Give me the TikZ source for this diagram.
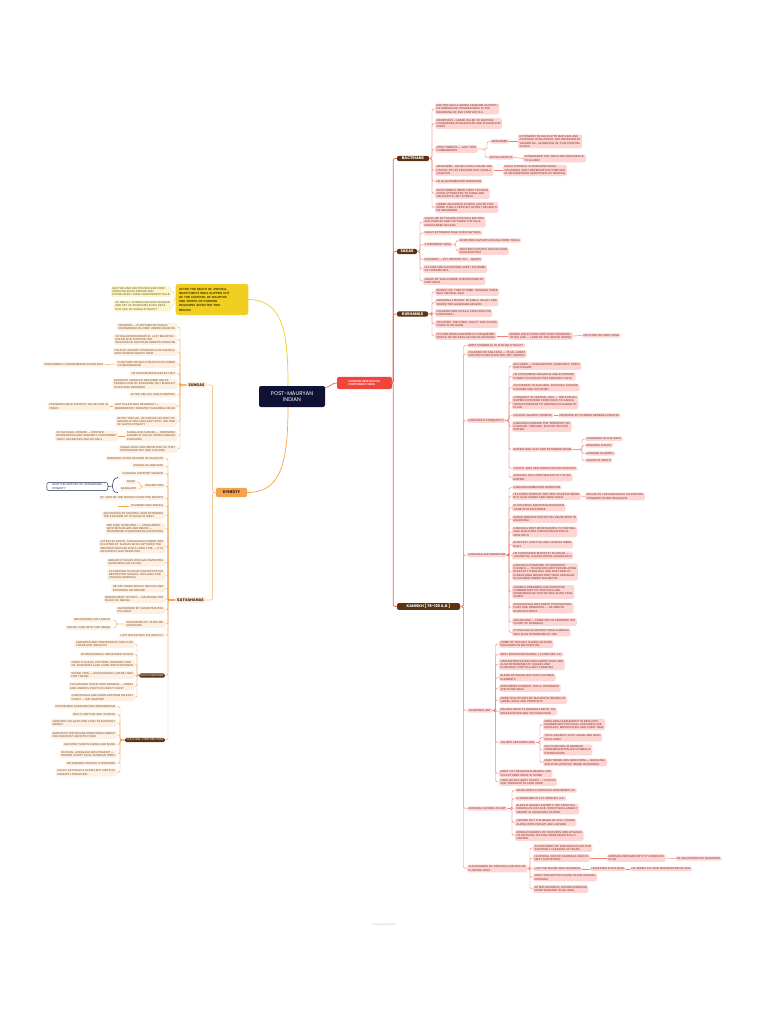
\documentclass[tikz,border=0pt]{standalone}
\usepackage{fontspec}
\setmainfont{Liberation Sans}
\newfontfamily\pop{Poppins}
\definecolor{navyc}{HTML}{0F1235}
\definecolor{redn}{HTML}{F0443C}
\definecolor{brnc}{HTML}{5B3411}
\definecolor{pkf}{HTML}{FDD6D4}
\definecolor{pkt}{HTML}{7D2A22}
\definecolor{redl}{HTML}{F47C78}
\definecolor{redt}{HTML}{F3625C}
\definecolor{yelf}{HTML}{F0CF22}
\definecolor{yelt}{HTML}{3A3000}
\definecolor{ycf}{HTML}{FBF4CC}
\definecolor{yct}{HTML}{6E6020}
\definecolor{yell}{HTML}{EED860}
\definecolor{dynf}{HTML}{F5A24F}
\definecolor{dynt}{HTML}{2E1A05}
\definecolor{subf}{HTML}{FDE7D3}
\definecolor{subt}{HTML}{3A2410}
\definecolor{pcf}{HTML}{FDEFE2}
\definecolor{pct}{HTML}{7A4A20}
\definecolor{orl}{HTML}{F6A24C}
\definecolor{ort}{HTML}{F4C595}
\definecolor{sumc}{HTML}{1D2450}
\newcommand\mysmall{\fontsize{2.8}{3.2}\selectfont}
\newcommand\myhead{\pop\bfseries\fontsize{3.8}{4.2}\selectfont}
\begin{document}
\begin{tikzpicture}[x=1pt,y=-1pt,
 pk/.style={fill=pkf,text=pkt,font=\mysmall,align=left,inner xsep=1.5pt,inner ysep=1.2pt,rounded corners=1.5pt,anchor=west},
 pc/.style={fill=pcf,text=pct,font=\mysmall,align=left,inner xsep=1.5pt,inner ysep=1.2pt,rounded corners=1.5pt,anchor=east},
 yc/.style={fill=ycf,text=yct,font=\mysmall,align=left,inner xsep=1.5pt,inner ysep=1.2pt,rounded corners=1.5pt,anchor=east},
 lvtwo/.style={fill=brnc,text=white,font=\myhead,inner xsep=2.5pt,inner ysep=1.3pt,rounded corners=2pt,anchor=center},
 brsmall/.style={fill=brnc,text=white,font=\mysmall,inner xsep=1.5pt,inner ysep=1.2pt,rounded corners=1.5pt,anchor=east},
 subnode/.style={fill=subf,text=subt,font=\myhead,inner xsep=2pt,inner ysep=1.3pt,rounded corners=1.5pt,anchor=center},
 rl/.style={draw=redl,line width=0.45pt,rounded corners=1.5pt},
 rt/.style={draw=redt,line width=0.7pt,rounded corners=2pt},
 ol/.style={draw=orl,line width=0.45pt,rounded corners=1.5pt},
 ot/.style={draw=ort,line width=0.7pt,rounded corners=2pt},
 yl/.style={draw=yell,line width=0.45pt,rounded corners=1.5pt}]
\fill[white] (0,0) rectangle (768,1024);
\useasboundingbox (0,0) rectangle (768,1024);

% ---------- centre ----------
\node[fill=navyc,text=white,font=\pop\fontsize{5.4}{6.6}\selectfont,align=center,minimum width=66pt,minimum height=21pt,rounded corners=2pt] (root) at (292,396.5) {POST-MAURYAN\\INDIAN};
\node[fill=redn,text=white,font=\bfseries\fontsize{2.8}{3.4}\selectfont,align=left,minimum width=55pt,minimum height=12pt,rounded corners=2pt] (fi) at (364.5,383) {FOREIGN INVASION OF\\NORTHWEST INDIA};
\node[fill=yelf,text=yelt,font=\bfseries\fontsize{3}{4.2}\selectfont,align=left,text width=66pt,minimum width=72pt,minimum height=31pt,rounded corners=2.5pt] (ybox) at (212,299.5) {AFTER THE DEATH OF ASHOKA,\\NORTH WEST INDIA SLIPPED OUT\\OF THE CONTROL OF MAURYAS\\AND SERIES OF FOREIGN\\INVASIONS AFFECTED THIS\\REGION};
\node[fill=dynf,text=dynt,font=\myhead,minimum width=31pt,minimum height=9pt,rounded corners=2pt] (dyn) at (231.5,492.5) {DYNESTY};

\draw[draw=redt,line width=0.7pt] ([yshift=9pt]root.east) .. controls (331,387) and (331,383) .. (fi.west);
\draw[draw=yelf,line width=0.7pt] ([xshift=-4pt]root.north) .. controls (288,335) and (284,300) .. (ybox.east);
\draw[draw=orl,line width=0.7pt] ([xshift=-4pt]root.south) .. controls (288,465) and (280,492.5) .. (dyn.east);

% ---------- right: level 2 ----------
\node[lvtwo,minimum width=32pt] (b1) at (413,158.5) {BACTRIANS};
\node[lvtwo,minimum width=20pt] (b2) at (407,251.5) {SAKAS};
\node[lvtwo,minimum width=31pt] (b3) at (412.5,314) {KUSHANAS};
\node[lvtwo,minimum width=63pt] (b4) at (428.5,606.5) {KANISKH [ 78-120 A.D ]};
\foreach \c in {b1,b2,b3,b4} \draw[rt] (fi.east) -| ([xshift=-3.5pt]\c.west) -- (\c.west);

% ---------- Bactrians ----------
\node[pk] (bc1) at (435,109) {BACTRIA WAS A GREEK KINGDOM IN NORTH\\OF HINDUKUSH, INVADED INDIA IN THE\\BEGINNING OF 2ND CENTURY B.C.};
\node[pk] (bc2) at (435,123.5) {DEMETRIUS - GREEK RULER OF BACTRIA,\\CONQUERED AFGHANISTAN AND PUNJAB AND\\SINDH};
\node[pk] (bc3) at (435,149) {MOST FAMOUS — LAST TWO\\COMMANDERS};
\node[pk] (bm) at (490,141.5) {MENANDER};
\node[pk] (bm1) at (518,141.5) {EXTENDED HIS RULE UPTO MATHURA AND\\ATTACKED PATALIPUTRA, BUT DEFEATED BY\\VASUMITRA - GRANDSON OF PUSHYAMITRA\\SUNGA};
\node[pk] (ba) at (488,157.5) {APPOLLODOTUS};
\node[pk] (ba1) at (523,158.5) {CONQUERED THE SINDH AND REACHED UP\\TO GUJRAT};
\node[pk] (bc4) at (435,170.5) {MENANDER - RULED OVER PUNJAB AND\\CAPITAL OF HIS KINGDOM WAS SAKALA\\(SIALKOT)};
\node[pk] (bc41) at (503,170.5) {MUCH INTEREST IN BUDDHISM FROM\\NAGASENA AND CONVERSATION COMPILED\\IN MILINDAPANHO (QUESTIONS OF MILINDA)};
\node[pk] (bc5) at (435,181.5) {HE ALSO EMBRACED BUDDHISM};
\node[pk] (bc6) at (435,193.5) {INDO-GREEKS WERE FIRST TO ISSUE\\COINS ATTRIBUTED TO KINGS AND\\HELLENISTIC ART IN INDIA};
\node[pk] (bc7) at (435,207.5) {GREEK INFLUENCE IN INDIA LASTED FOR\\MORE THAN A CENTURY AFTER THE DEATH\\OF MENANDER};
\foreach \c in {bc1,bc2,bc3,bc4,bc5,bc6,bc7} \draw[rl] (b1.east) -| ([xshift=-3pt]\c.west) -- (\c.west);
\foreach \c in {bm,ba} \draw[rl] (bc3.east) -| ([xshift=-3pt]\c.west) -- (\c.west);
\draw[rl] (bm.east) -- (bm1.west);
\draw[rl] (ba.east) -- (ba1.west);
\draw[rl] (bc4.east) -- (bc41.west);

% ---------- Sakas ----------
\node[pk] (sc1) at (423,222) {SAKAS OR SCYTHIANS ATTACKED BACTRIA\\AND PARTHIA AND CAPTURED THE RULE\\FROM GREEK RULERS};
\node[pk] (sc2) at (423,233) {SAKAS EXTENDED RULE OVER NW INDIA};
\node[pk] (sc3) at (423,244.5) {2 DIFFERENT SAKA};
\node[pk] (sc31) at (458,240.5) {NORTHERN SATRAPS RULING FROM TAXILA};
\node[pk] (sc32) at (458,251) {WESTERN SATRAPS RULING OVER\\MAHARASHTRA};
\node[pk] (sc4) at (423,259.5) {FOUNDER — 1ST CENTURY B.C. - MAUES};
\node[pk] (sc5) at (423,269) {HIS SON AND SUCCESSOR AZES I FOUNDER\\OF VIKRAMA ERA};
\node[pk] (sc6) at (423,281) {SAKAS OF TAXILA WERE OVERTHROWN BY\\PARTHIANS};
\foreach \c in {sc1,sc2,sc3,sc4,sc5,sc6} \draw[rl] (b2.east) -| ([xshift=-3pt]\c.west) -- (\c.west);
\foreach \c in {sc31,sc32} \draw[rl] (sc3.east) -| ([xshift=-2pt]\c.west) -- (\c.west);

% ---------- Kushanas ----------
\node[pk] (kc1) at (435,292) {BRANCH OF YUECHI TRIBE, ORIGINAL HOME\\WAS CENTRAL ASIA};
\node[pk] (kc2) at (435,302.5) {GRADUALLY MOVED TO KABUL VALLEY AND\\SEIZED THE GANDHARA REGION};
\node[pk] (kc3) at (435,313) {FOUNDER WAS KUJULA KADPHISES OR\\KADPHISES I};
\node[pk] (kc4) at (435,324) {OCCUPIED THE KABUL VALLEY AND ISSUED\\COINS IN HIS NAME};
\node[pk] (kc5) at (435,336) {HIS SON WIMA KADPHISES II CONQUERED\\WHOLE OF NW INDIA AS FAR AS MATHURA};
\node[pk] (kc51) at (508,336) {ISSUED GOLD COINS WITH HIGH SOUNDING\\TITLES LIKE — LORD OF THE WHOLE WORLD};
\node[pk] (kc52) at (582,335.5) {DEVOTEE OF LORD SHIVA};
\foreach \c in {kc1,kc2,kc3,kc4,kc5} \draw[rl] (b3.east) -| ([xshift=-3pt]\c.west) -- (\c.west);
\draw[rl] (kc5.east) -- (kc51.west);
\draw[rl] (kc51.east) -- (kc52.west);

% ---------- Kanishka ----------
\node[pk] (k1) at (467,345.5) {MOST POWERFUL IN KUSHAN DYNASTY};
\node[pk] (k2) at (467,354) {FOUNDER OF SAKA ERA — 78 AD, GREAT\\PATRON OF RELIGION AND ART, FAMOUS};
\node[pk] (k3) at (467,420.5) {KANISHKA'S CONQUESTS};
\node[pk] (k4) at (467,555) {KANISHKA AND BUDDHISM};
\node[pk] (k5) at (467,710.5) {GANDHARA ART};
\node[pk] (k6) at (467,808.5) {MATHURA SCHOOL OF ART};
\node[pk] (k7) at (467,868.5) {SUCCESSORS OF KANISHKA AND END OF\\KUSHANA RULE};
\foreach \c in {k1,k2,k3,k4,k5,k6,k7} \draw[rl] (b4.east) -| ([xshift=-3.5pt]\c.west) -- (\c.west);

% conquests
\node[pk] (k3a) at (512,366) {INCLUDED — AFGHANISTAN, GANDHARA, SINDH\\AND PUNJAB};
\node[pk] (k3b) at (512,376.5) {HE CONQUERED MAGADHA AND EXTENDED\\POWER TO PATALIPUTRA AND BODH GAYA};
\node[pk] (k3c) at (512,387.5) {ACCORDING TO KALHANA, KANISHKA INVADED\\KASHMIR AND OCCUPIED};
\node[pk] (k3d) at (512,402.5) {CONQUEST IN CENTRAL ASIA — THE KUSHAN\\EMPIRE EXTENDED FROM OXUS TO GANGA,\\FROM KHORASAN TO VARANASI IN GANGETIC\\PLAIN};
\node[pk] (k3e) at (512,415.5) {FOUGHT AGAINST CHINESE};
\node[pk] (k3e1) at (558,415.5) {DEFEATED BY CHINESE GENERAL PANCHO};
\node[pk] (k3f) at (512,426.5) {KANISHKA ANNEXED THE TERRITORY OF\\KASHGAR, YARKAND, KHOTAN INTO HIS\\EMPIRE};
\node[pk] (k3g) at (512,449.5) {EMPIRE WAS VAST AND EXTENDED FROM};
\node[pk] (k3g1) at (585,439) {GANDHARA IN THE WEST};
\node[pk] (k3g2) at (585,445.5) {BENARES IN EAST};
\node[pk] (k3g3) at (585,453.5) {KASHMIR IN NORTH};
\node[pk] (k3g4) at (585,460.5) {MALWA IN SOUTH};
\node[pk] (k3h) at (512,468.5) {CAPITAL WAS PESHAWAR OR PURUSHAPURA};
\node[pk] (k3i) at (512,477.5) {MATHURA WAS ANOTHER IMP CITY IN HIS\\EMPIRE};
\foreach \c in {k3a,k3b,k3c,k3d,k3e,k3f,k3g,k3h,k3i} \draw[rl] (k3.east) -| ([xshift=-3pt]\c.west) -- (\c.west);
\draw[rl] (k3e.east) -- (k3e1.west);
\foreach \c in {k3g1,k3g2,k3g3,k3g4} \draw[rl] (k3g.east) -| ([xshift=-3pt]\c.west) -- (\c.west);

% buddhism
\node[pk] (k4a) at (512,487.5) {KANISHKA EMBRACED BUDDHISM};
\node[pk] (k4b) at (512,496) {HIS COINS PORTRAY NOT ONLY BUDDHA IMAGE\\BUT ALSO GREEK AND HINDU GODS};
\node[pk] (k4b1) at (585,496.5) {REFLECTS THE KANISHKA'S TOLERATION\\TOWARDS OTHER RELIGIONS};
\node[pk] (k4c) at (512,507.5) {IN HIS REIGN, MAHAYANA BUDDHISM\\CAME INTO EXISTENCE};
\node[pk] (k4d) at (512,519) {IMAGE WORSHIP AND RITUAL DEVELOPED IN\\MAHAYANA};
\node[pk] (k4e) at (512,532) {KANISHKA SENT MISSIONARIES TO CENTRAL\\ASIA AND CHINA FOR PROPAGATION OF\\NEW FAITH};
\node[pk] (k4f) at (512,544.5) {BUDDHIST CHAITYAS AND VIHARAS WERE\\BUILT};
\node[pk] (k4g) at (512,555.5) {HE PATRONIZED BUDDHIST SCHOLAR —\\VASUMITRA, ASHVAGHOSHA, NAGARJUNA};
\node[pk] (k4h) at (512,572) {KANISHKA CONVENED 4TH BUDDHIST\\COUNCIL — TO DISCUSS MATTERS RELATING\\BUDDHIST THEOLOGY AND DOCTRINE AT\\KUNDALVANA MONASTERY NEAR SRINAGAR\\IN KASHMIR UNDER VASUMITRA};
\node[pk] (k4i) at (512,592) {COUNCIL PREPARED AUTHORITATIVE\\COMMENTARY ON TRIPITAKA AND\\MAHAVIBHASHA SASTRA WAS GIVEN FINAL\\SHAPE};
\node[pk] (k4j) at (512,608) {ASVAGHOSHA WAS GREAT PHILOSOPHER,\\POET AND DRAMATIST — HE WROTE\\BUDDHACHARITA};
\node[pk] (k4k) at (512,622) {NAGARJUNA — FROM SOUTH ADORNED THE\\COURT OF KANISHKA};
\node[pk] (k4l) at (512,632.5) {PHYSICIAN OF ANCIENT INDIA CHARAKA\\WAS ALSO PATRONIZED BY HIM};
\foreach \c in {k4a,k4b,k4c,k4d,k4e,k4f,k4g,k4h,k4i,k4j,k4k,k4l} \draw[rl] (k4.east) -| ([xshift=-3pt]\c.west) -- (\c.west);
\draw[rl] (k4b.east) -- (k4b1.west);

% gandhara
\node[pk] (k5a) at (499,644) {HOME OF THIS ART IS AREA AROUND\\PESHAWAR IN NW PAKISTAN};
\node[pk] (k5b) at (499,654.5) {BEST PRODUCED DURING 1-2 CENTURY A.D.};
\node[pk] (k5c) at (499,664.5) {ORIGINATED DURING INDO-GREEK RULE AND\\ALSO PATRONISED BY SHAKAS AND\\KUSHANAS, PARTICULARLY KANISHKA};
\node[pk] (k5d) at (499,677.5) {BLEND OF INDIAN AND GRECO-ROMAN\\ELEMENTS};
\node[pk] (k5e) at (499,688) {SPECIMENS FOUND IN TAXILA, PESHAWAR\\AND IN NW INDIA};
\node[pk] (k5f) at (499,700) {MADE SCULPTURES OF BUDDHA IN IMAGES OF\\GREEK GODS AND PORTRAITS};
\node[pk] (k5g) at (499,711.5) {RELIEFS DEPICTS BUDDHA'S BIRTH, HIS\\RENUNCIATION AND HIS PREACHING};
\node[pk] (k5h) at (499,742.5) {SALIENT FEATURES ARE};
\node[pk] (k5h1) at (543,724.5) {MOULDING HUMAN BODY IN REALISTIC\\MANNER WITH PHYSICAL FEATURES LIKE\\MUSCLES, MOUSTACHES AND CURLY HAIR};
\node[pk] (k5h2) at (543,737.5) {THICK DRAPERY WITH LARGE AND BOLD\\FOLD LINES};
\node[pk] (k5h3) at (543,750) {RICH CARVING, ELABORATE\\ORNAMENTATION AND SYMBOLIC\\EXPRESSIONS};
\node[pk] (k5h4) at (543,762.5) {MAIN THEME WAS NEW FORM — MAHAYANA\\AND EVOLUTION OF IMAGE OF BUDDHA};
\node[pk] (k5i) at (499,773.5) {MOST OF THE BUDDHA IMAGES AND\\SCULPTURES MADE IN STONE};
\node[pk] (k5j) at (499,782) {USED BLUISH-GREY SCHIST — STUCCO\\AND TERRACOTTA ALSO USED};
\foreach \c in {k5a,k5b,k5c,k5d,k5e,k5f,k5g,k5h,k5i,k5j} \draw[rl] (k5.east) -| ([xshift=-3.5pt]\c.west) -- (\c.west);
\foreach \c in {k5h1,k5h2,k5h3,k5h4} \draw[rl] (k5h.east) -| ([xshift=-3pt]\c.west) -- (\c.west);

% mathura
\node[pk] (k6a) at (515,790.5) {DEVELOPED AT MATHURA IN BORDERS OF};
\node[pk] (k6b) at (515,798.5) {FLOURISHED IN 1ST CENTURY A.D.};
\node[pk] (k6c) at (515,809) {BUDDHA IMAGES EXHIBITS THE SPIRITUAL\\FEELING IN HIS FACE, WHICH WAS LARGELY\\ABSENT IN GANDHARA SCHOOL};
\node[pk] (k6d) at (515,822.5) {CARVED OUT THE IMAGE OF SIVA, VISHNU\\ALONG WITH PARVATI AND LAKSHMI};
\node[pk] (k6e) at (515,835.5) {FEMALE FIGURES OF YAKSHINIS AND APSARAS\\OF MATHURA SCHOOL WERE BEAUTIFULLY\\CARVED};
\foreach \c in {k6a,k6b,k6c,k6d,k6e} \draw[rl] (k6.east) -| ([xshift=-3pt]\c.west) -- (\c.west);

% successors
\node[pk] (k7a) at (533,848) {SUCCESSORS OF KANISHKA RULED FOR\\ANOTHER 1 HUNDRED 50 YEARS};
\node[pk] (k7b) at (533,858) {HUVISHKA, SON OF KANISHKA AND HIS\\NEXT SUCCESSOR};
\node[pk] (k7b1) at (607,858) {MATHURA BECAME IMP CITY UNDER HIS\\RULE};
\node[pk] (k7b2) at (675,858.5) {HE WAS PATRON OF BUDDHISM};
\node[pk] (k7c) at (533,869) {LAST IMP RULER WAS VASUDEVA};
\node[pk] (k7c1) at (590,869) {HINDUISED IN HIS RULE};
\node[pk] (k7c2) at (630,869) {HE SEEMS TO HAVE WORSHIPPER OF SIVA};
\node[pk] (k7d) at (533,877.5) {MOST INSCRIPTION FOUND IN AND AROUND\\MATHURA};
\node[pk] (k7e) at (533,889) {AFTER VASUDEVA, KUSHAN KINGDOM\\DISINTEGRATED IN NW INDIA};
\foreach \c in {k7a,k7b,k7c,k7d,k7e} \draw[rl] (k7.east) -| ([xshift=-3pt]\c.west) -- (\c.west);
\draw[rl] (k7b.east) -- (k7b1.west);
\draw[rl] (k7b1.east) -- (k7b2.west);
\draw[rl] (k7c.east) -- (k7c1.west);
\draw[rl] (k7c1.east) -- (k7c2.west);

% ---------- left: yellow ----------
\node[yc] (yc1) at (171.5,291.5) {BACTRIA AND PARTHIA BECAME FREE\\FROM SELEUCID EMPIRE AND\\ESTABLISHED THEIR INDEPENDENT RULE};
\node[yc] (yc2) at (171.5,306) {AS RESULT, FOREIGN RULERS INVADED\\AND SET UP KINGDOMS IN NW INDIA\\IN PLACE OF SUNGA DYNASTY};
\foreach \c in {yc1,yc2} \draw[yl] (ybox.west) -| ([xshift=2.5pt]\c.east) -- (\c.east);

% ---------- dynasty ----------
\node[subnode] (sung) at (196.5,385) {SUNGAS};
\node[subnode] (satv) at (190.5,600) {SATVAHANAS};
\coordinate (dt) at (212.5,0);
\foreach \c in {sung,satv} \draw[ot] (dyn.west) -| (dt |- \c.east) -- (\c.east);

% sungas
\node[pc] (s1) at (177,327) {FOUNDER — PUSHYAMITRA SUNGA,\\COMMANDER-IN-CHIEF UNDER MAURYAS};
\node[pc] (s2) at (177,339.5) {HE KILLED BRIHADRATHA, LAST MAURYAN\\RULER AND STOPPED THE\\INVASION OF BACTRIAN GREEKS FROM NW};
\node[pc] (s3) at (177,352) {FOUGHT AGAINST KHARAVELA OF KALINGA,\\WHO INVADED NORTH INDIA};
\node[pc] (s4) at (177,364) {PUSHYAMITRA WAS STAUNCH FOLLOWER\\OF BRAHMANISM};
\node[pc] (s41) at (105,364.5) {PERFORMED 2 ASHWAMEDHA SACRIFICES};
\node[pc] (s5) at (177,373.5) {HE PATRONIZED BUDDHIST ART};
\node[pc] (s6) at (177,384) {BUDDHIST SOURCES DESCRIBE HIM AS\\PERSECUTOR OF BUDDHISM, BUT BHARHUT\\STUPA WAS REPAIRED};
\node[pc] (s7) at (177,395) {AFTER HIM, HIS SON AGNIMITRA};
\node[pc] (s8) at (177,406.5) {LAST RULER WAS DEVABHUTI —\\MURDERED BY MINISTER VASUDEVA KANVA};
\node[pc] (s81) at (110,406.5) {FOUNDED KANVA DYNASTY, RULED FOR 45\\YEARS};
\node[pc] (s9) at (177,421.5) {AFTER THE FALL OF KANVAS HISTORY OF\\MAGADHA WAS UNCLEAR UNTIL THE RISE\\OF GUPTA DYNASTY};
\node[pc] (s10) at (177,436) {SUNGA AND KANVAS — DEFENDED\\GANGETIC VALLEY FROM FOREIGN\\INVASIONS};
\node[pc] (s101) at (118,436) {IN CULTURAL SPHERE — REVIVED\\BRAHMANISM AND SANSKRIT, PERFORMED\\VEDIC SACRIFICES AND RITUALS};
\node[pc] (s11) at (177,449) {SUNGA RULE WAS IMPORTANT AS THEY\\PATRONISED ART AND CULTURE};
\foreach \c in {s1,s2,s3,s4,s5,s6,s7,s8,s9,s10,s11} \draw[ol] (sung.west) -| ([xshift=3pt]\c.east) -- (\c.east);
\draw[ol] (s4.west) -- (s41.east);
\draw[ol] (s8.west) -- (s81.east);
\draw[ol] (s10.west) -- (s101.east);

% satavahanas
\node[pc] (t1) at (165,458.5) {EMERGED AFTER DECLINE OF MAURYAS};
\node[pc] (t2) at (165,466) {KNOWN AS ANDHRAS};
\node[pc] (t3) at (165,473.5) {PURANAS SUPPORT SOURCE};
\node[pc] (t4) at (165,486) {INSCRIPTION};
\node[pc] (t41) at (137,482) {NASIK};
\node[pc] (t42) at (138,489) {NANAGHAT};
\node[pc] (t5) at (165,498) {BY COIN OF THE PERIOD CONDITION EXPORT};
\node[pc] (t6) at (165,506) {FOUNDER WAS SIMUKA};
\node[pc] (t7) at (165,515) {SUCCEEDED BY KRISHNA, WHO EXTENDED\\THE KINGDOM UP TO NASIK IN WEST};
\node[pc] (t8) at (165,528.5) {3RD KING SATAKARNI I — CONQUERED\\WESTERN MALWA AND BERAR —\\PERFORMED ASHWAMEDHA SACRIFICES};
\node[pc] (t9) at (165,546.5) {AFTER HIS DEATH, SATAVAHANA POWER WAS\\ECLIPSED BY SHAKAS WHO CAPTURED THE\\WESTERN DECCAN FOR A LONG TIME — IT IS\\REVIVED BY GAUTAMIPUTRA};
\node[pc] (t10) at (165,562.5) {GREATEST RULER WAS GAUTAMIPUTRA\\SATAKARNI (106-130 AD)};
\node[pc] (t11) at (165,575) {ACCORDING TO NASIK INSCRIPTION HE\\DESTROYED SHAKAS, PAHLAVAS AND\\YAVANAS (GREEKS)};
\node[pc] (t12) at (165,588.5) {HE CAPTURED WHOLE DECCAN AND\\EXPANDED HIS EMPIRE};
\node[pc] (t13) at (165,599) {REMARKABLE VICTORY — NAHAPANA THE\\RULER OF MALWA};
\node[pc] (t14) at (165,610) {SUCCEEDED BY VASISHTAPUTRA\\PULAMAYI};
\node[pc] (t15) at (165,624) {SUCCEEDED BY YAJNA SRI\\SATAKARNI};
\node[pc] (t151) at (112,620) {RECOVERED LOST AREAS};
\node[pc] (t152) at (112,628) {ISSUED COIN WITH SHIP IMAGE};
\node[pc] (t16) at (165,635.5) {LAST RULER WAS PULUMAVI IV};
\node[brsmall] (eco) at (165,675.5) {ECO CONDITION};
\node[brsmall] (cul) at (165,740) {CULTURAL CONTRIBUTION};
\foreach \c in {t1,t2,t3,t4,t5,t6,t7,t8,t9,t10,t11,t12,t13,t14,t15,t16,eco,cul} \draw[ol] (satv.west) -| ([xshift=3pt]\c.east) -- (\c.east);
\foreach \c in {t41,t42} \draw[ol] (t4.west) -| ([xshift=3pt]\c.east) -- (\c.east);
\foreach \c in {t151,t152} \draw[ol] (t15.west) -| ([xshift=4pt]\c.east) -- (\c.east);
\coordinate (simu) at (118,506);
\draw[ol] (t6.west) -- (simu);

% summary
\node[draw=sumc,line width=0.5pt,fill=white,text=sumc,font=\mysmall,align=left,inner xsep=1.8pt,inner ysep=1.4pt,rounded corners=2pt,anchor=east,minimum width=61pt] (summ) at (108,486.5) {GIVE THE HISTORY OF SATAVAHANA\\DYNASTY};
\coordinate (br1) at (118,477.5);
\coordinate (br2) at (118,492.5);
\coordinate (brm) at (112.5,486);
\draw[draw=sumc,line width=0.5pt] (br1) .. controls (113,478) and (113,482) .. (brm) .. controls (113,490) and (113,492.5) .. (br2);
\draw[draw=sumc,line width=0.5pt] (brm) -- (summ.east);

% eco condition
\node[pc] (e1) at (135,644) {AGRARIAN AND PROSPEROUS FIELDS OF\\TRADE AND INDUSTRY};
\node[pc] (e2) at (135,654.5) {PROFESSIONALS ORGANISED GUILDS};
\node[pc] (e3) at (135,664) {CRAFTS GUILDS, POTTERS, WEAVERS AND\\OIL PRESSERS ALSO CAME INTO EXISTENCE};
\node[pc] (e4) at (135,675) {SILVER COIN — KARSHAPANAS ( MADE USED\\FOR TRADE)};
\node[pc] (e5) at (135,686.5) {FLOURISHED TRADE WITH ROMANS — GREAT\\AND VARIOUS PORTS ON WEST COAST};
\node[pc] (e6) at (135,697.5) {GHANTASALA AND GOPALAPATNAM ON EAST\\COAST — IMP SEAPORT};
\foreach \c in {e1,e2,e3,e4,e5,e6} \draw[ol] (eco.west) -| ([xshift=2pt]\c.east) -- (\c.east);

% cultural contribution
\node[pc] (c1) at (117,706.5) {PATRONIZED BUDDHISM AND BRAHMANISM};
\node[pc] (c2) at (117,714.5) {BUILT CHAITYAS AND VIHARAS};
\node[pc] (c3) at (117,723) {GRANTED VILLAGES AND LAND TO BUDDHIST\\MONKS};
\node[pc] (c4) at (117,735) {AMARAVATI AND NAGARJUNAKONDA FAMOUS\\FOR BUDDHIST ARCHITECTURE};
\node[pc] (c5) at (117,744.5) {ARCHITECTURE IN KARLE AND NASIK};
\node[pc] (c6) at (117,754) {OFFICIAL LANGUAGE WAS PRAKRIT —\\BRAHMI SCRIPT AS IN ASHOKAN TIMES};
\node[pc] (c7) at (117,763.5) {PATRONIZED PRAKRIT LITERATURE};
\node[pc] (c8) at (117,772.5) {HALA'S SATTASAI IS EXCELLENT PIECE OF\\PRAKRIT LITERATURE};
\foreach \c in {c1,c2,c3,c4,c5,c6,c7,c8} \draw[ol] (cul.west) -| ([xshift=3pt]\c.east) -- (\c.east);

% footer
\node[font=\fontsize{2.6}{3}\selectfont,text=black!25] (foot) at (384,924.5) {Powered with xmind};
\end{tikzpicture}
\end{document}
